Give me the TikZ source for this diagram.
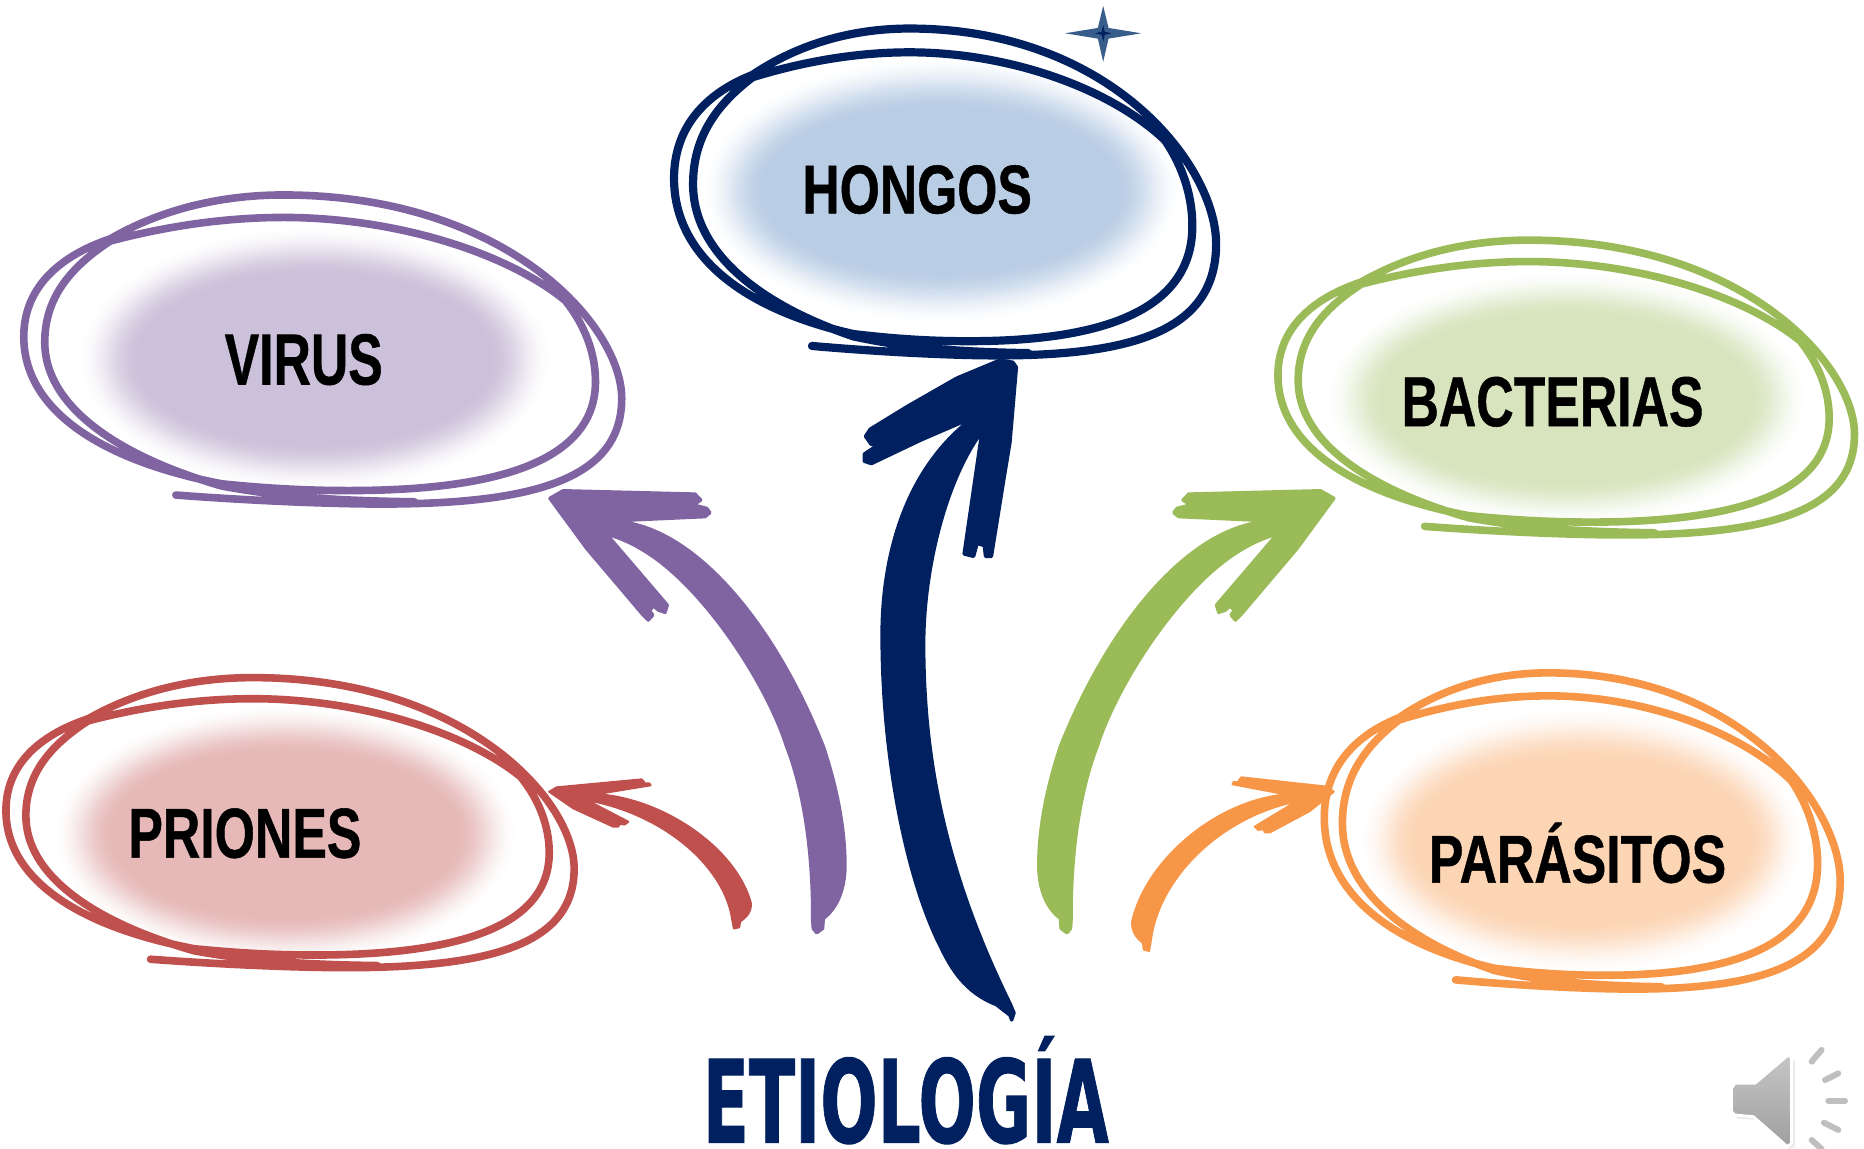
\documentclass[tikz,border=0pt]{standalone}
\usepackage{fontspec}
\setmainfont{Liberation Sans}
\newfontfamily\lblfont[FakeBold=.8]{Liberation Sans Bold}
\newfontfamily\titlefont[FakeBold=1]{DejaVu Sans Bold}
\definecolor{navyc}{HTML}{002060}
\definecolor{purplec}{HTML}{8064A2}
\definecolor{redc}{HTML}{C0504D}
\definecolor{greenc}{HTML}{9BBB59}
\definecolor{orangec}{HTML}{F79646}
\definecolor{starc}{HTML}{385D8A}
\definecolor{gB}{HTML}{B9CDE5}
\definecolor{gP}{HTML}{CCC1DA}
\definecolor{gG}{HTML}{D7E4BD}
\definecolor{gR}{HTML}{E6B9B8}
\definecolor{gO}{HTML}{FCD5B5}
\newcommand{\blobpath}{(683,291) .. controls (740,296) and (800,299) .. (840,299) .. controls (960,299) and (1023,275) .. (1023,205) .. controls (1023,140) and (935,24) .. (765,24) .. controls (715,24) and (670,38) .. (633,63) .. controls (590,80) and (567,110) .. (567,150) .. controls (567,215) and (625,260) .. (718,281) .. controls (760,286) and (790,287) .. (815,287) .. controls (930,287) and (1003,260) .. (1003,190) .. controls (1003,165) and (995,140) .. (980,118) .. controls (935,75) and (850,44) .. (765,44) .. controls (720,44) and (675,52) .. (633,65) .. controls (600,90) and (583,118) .. (583,155) .. controls (583,210) and (635,255) .. (718,283) .. controls (760,292) and (800,296) .. (865,297)}
\newcommand{\drawblob}[6]{% x0 y0 w h colour linewidth
 \pgfmathsetmacro\sxb{#3/456*0.5944}\pgfmathsetmacro\syb{#4/275*0.5944}
 \begin{scope}[shift={(#1,#2)},x=\sxb pt,y=-\syb pt,shift={(-567,-24)}]
  \draw[#5,line width=#6,line join=round,line cap=round] \blobpath;
 \end{scope}}
\newcommand{\glow}[7]{% cx cy rxo ryo rxi ryi colour
 \foreach \i in {0,...,32}{
  \pgfmathsetmacro\tt{\i/32}
  \pgfmathsetmacro\ss{100*\tt*\tt*(3-2*\tt)}
  \pgfmathsetmacro\rx{#3+(#5-#3)*\tt}
  \pgfmathsetmacro\ry{#4+(#6-#4)*\tt}
  \fill[#7!\ss!white] (#1,#2) ellipse [x radius=\rx,y radius=\ry];
 }}
\newcommand{\purpleshape}{(511.7,438.3) .. controls (582,438) and (652,525) .. (692.6,628) .. controls (705,665) and (711,700) .. (710.8,729) .. controls (710.5,750) and (703,765) .. (692.6,772.5) -- (692,781) -- (687,784.6) -- (684.1,781) -- (683.6,774) .. controls (684,725) and (678,670) .. (661.7,628) .. controls (645,575) and (590,490) .. (538,461) .. controls (528,455) and (519,452) .. (509.7,448.7) -- (561.3,509) -- (559.4,515.1) -- (553.8,513.2) -- (550.1,509.8) -- (546.2,513.2) -- (549,517.4) -- (545.3,521.6) -- (541.1,517.4) -- (493.5,461.3) -- (462.6,419.2) -- (473.8,412.8) -- (584.6,415.6) -- (589.4,420.6) -- (583.2,424.8) -- (594.4,427.6) -- (597.2,431.3) -- (593,434.6) -- cycle}
\newcommand{\redshape}{(462,666) -- (468.2,662.3) -- (539.7,655.6) -- (541.7,657.6) -- (537,659) -- (546.2,659) -- (547.3,660.6) -- (501.9,668) .. controls (560,672) and (620,715) .. (631.7,760) .. controls (632,768) and (627,772) .. (622.5,775.3) -- (621.9,780) -- (617.4,781) -- (616,774) .. controls (610,730) and (560,685) .. (493.5,673) -- (528.5,691.2) -- (525.7,693.5) -- (521,693.2) -- (520.1,695.4) -- (515.9,695.4) -- (482.3,680) -- cycle}
\tikzset{
 labelnode/.style={inner sep=0pt,text=black},
 arrowfill/.style={fill=#1,draw=#1,line width=1.7pt,line join=round},
 speakerray/.style={draw=gray!50,line width=3pt,line cap=round},
 speakerhalo/.style={draw=white,line width=4.2pt,line cap=round}
}
\begin{document}
\begin{tikzpicture}[x=0.5944pt,y=-0.5944pt]
\useasboundingbox (0,0) rectangle (1568,966.5);
\fill[white] (0,0) rectangle (1568,966.5);
% glows
\glow{792}{160}{203}{114}{148}{68}{gB}
\glow{265}{302}{200}{112}{148}{71}{gP}
\glow{1318}{335}{204}{108}{153}{69}{gG}
\glow{240}{702}{196}{110}{145}{69}{gR}
\glow{1331}{707}{188}{113}{140}{69}{gO}
% blobs
\drawblob{567}{24}{456}{275}{navyc}{4.1pt}
\drawblob{20}{164}{503}{260}{purplec}{3.8pt}
\drawblob{1075}{202}{485}{248}{greenc}{3.8pt}
\drawblob{5}{570}{478}{244}{redc}{3.8pt}
\drawblob{1114}{566}{434}{266}{orangec}{3.8pt}
% labels
\node[labelnode] (hongos) at (771.5,159.5) {\resizebox*{114.7pt}{24.4pt}{\lblfont HONGOS}};
\node[labelnode] (virus) at (255.5,302.5) {\resizebox*{79pt}{25.6pt}{\lblfont VIRUS}};
\node[labelnode] (bacterias) at (1306,338) {\resizebox*{151pt}{25pt}{\lblfont BACTERIAS}};
\node[labelnode] (priones) at (206,701) {\resizebox*{116.5pt}{25pt}{\lblfont PRIONES}};
\node[labelnode] (parasitos) at (1327,717.5) {\resizebox*{148.6pt}{30.3pt}{\lblfont PARÁSITOS}};
\node[inner sep=0pt,text=navyc] (etiologia) at (762,917) {\resizebox*{203pt}{54pt}{\titlefont ETIOLOGÍA}};
% star
\fill[starc] (928,5) -- (932.5,23.5) -- (960,28) -- (932.5,32.5) -- (928,52) -- (923.5,32.5) -- (896,28) -- (923.5,23.5) -- cycle;
\fill[navyc] (928,21) -- (929.3,26.7) -- (935,28) -- (929.3,29.3) -- (928,35) -- (926.7,29.3) -- (921,28) -- (926.7,26.7) -- cycle;
% navy arrow
\fill[arrowfill=navyc] (849.6,854) -- (838,845) .. controls (812,835) and (800,815) .. (791,796) .. controls (765,745) and (742,645) .. (742,534) .. controls (742,470) and (760,395) .. (819,351) -- (775,370) -- (733,390) -- (727,388) -- (727,382) -- (748,368) -- (733,374) -- (728,367) -- (732,361) -- (763,342) -- (805,318) -- (841,303) -- (852,304.7) -- (855,309) -- (849.6,372) -- (844,406) -- (834,468) -- (829,468) -- (828,459) -- (822,457) -- (819,468) -- (811,466) -- (826,363) .. controls (795,405) and (777,480) .. (777,542) .. controls (777,640) and (796,735) .. (849.6,844) -- (853,852) -- (851,858) -- cycle;
% other arrows
\fill[arrowfill=purplec] \purpleshape;
\begin{scope}[shift={(1584.6,0)},xscale=-1]
 \fill[arrowfill=greenc] \purpleshape;
\end{scope}
\fill[arrowfill=redc,line width=1pt] \redshape;
\begin{scope}[shift={(1584,666)},xscale=-1,yscale=1.165,shift={(0,-666)}]
 \fill[arrowfill=orangec,line width=1pt] \redshape;
\end{scope}
% speaker
\fill[gray!30,opacity=.5] (1459,918) -- (1462,914) -- (1479,914) -- (1507,890) -- (1510,893) -- (1510,964) -- (1506,967) -- (1478,942) -- (1462,941) -- (1459,938) -- cycle;
\filldraw[draw=white,line width=1.4pt,line join=round,top color=gray!45,bottom color=gray!75] (1456.6,915.5) -- (1459.4,911.3) -- (1476.3,911.3) -- (1504.3,887.4) -- (1507.1,890.2) -- (1507.1,961.7) -- (1503.5,964.5) -- (1474.9,939.3) -- (1459.4,937.9) -- (1456.6,935.1) -- cycle;
\foreach \xa/\ya/\xb/\yb in {1524/893/1532.3/883.2,1535.2/908.5/1546.4/902.9,1538/925.8/1552/925.8,1534.3/944.4/1546.4/950.5,1524/959/1532.3/966.5}{
 \draw[speakerhalo] (\xa,\ya) -- (\xb,\yb);
 \draw[speakerray] (\xa,\ya) -- (\xb,\yb);
}
\end{tikzpicture}
\end{document}
